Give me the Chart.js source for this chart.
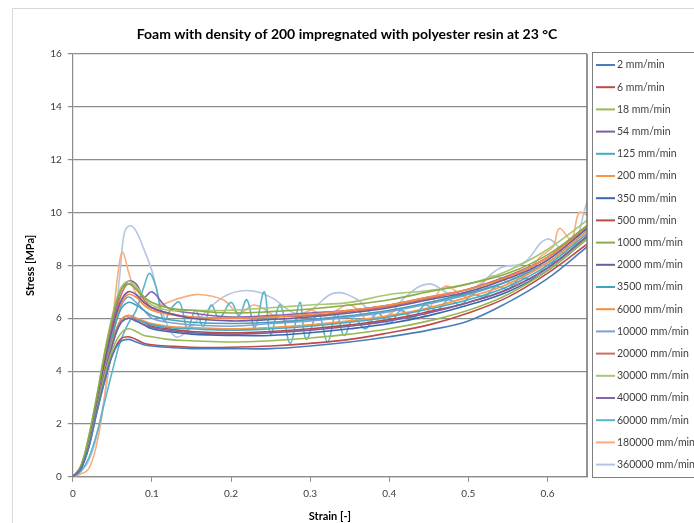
<!DOCTYPE html>
<html lang="en">
<head>
  <meta charset="UTF-8">
  <title>Foam with density of 200 impregnated with polyester resin at 23 °C</title>
  <script src="https://cdn.jsdelivr.net/npm/chart.js"></script>
  <style>
    html, body { margin: 0; padding: 0; background: #fff; }
    #wrap { width: 694px; height: 523px; position: relative; }
  </style>
</head>
<body>
  <div id="wrap"><canvas id="foamChart"></canvas></div>
  <script>
    const chartTitle = 'Foam with density of 200 impregnated with polyester resin at 23 °C';

    // legend labels (test speeds)
    const rates = ['2 mm/min', '6 mm/min', '18 mm/min', '54 mm/min', '125 mm/min', '200 mm/min',
      '350 mm/min', '500 mm/min', '1000 mm/min', '2000 mm/min', '3500 mm/min', '6000 mm/min',
      '10000 mm/min', '20000 mm/min', '30000 mm/min', '40000 mm/min', '60000 mm/min',
      '180000 mm/min', '360000 mm/min'];

    const colors = ['#4a7ebb', '#be4b48', '#98b954', '#7d60a0', '#46aac5', '#f79646',
      '#3a67aa', '#b64a47', '#8bac4a', '#7359a0', '#3fa5bd', '#f58d42',
      '#7ea0d6', '#cf6a66', '#a8c673', '#8466ad', '#5ab4cc',
      '#f9ad7f', '#b3c5e3'];

    // common strain grid for the smoother curves
    const strain = [0, 0.01, 0.02, 0.03, 0.04, 0.05, 0.06, 0.07, 0.08, 0.09, 0.1, 0.12, 0.15,
      0.2, 0.25, 0.3, 0.35, 0.4, 0.45, 0.5, 0.55, 0.6, 0.65];

    const s2 = [0, 0.3, 1.1, 2.4, 3.6, 4.6, 5.1, 5.2, 5.1, 5.0, 4.95, 4.9, 4.85, 4.85, 4.85, 4.95, 5.1, 5.3, 5.55, 5.9, 6.6, 7.5, 8.7];
    const s6 = [0, 0.3, 1.1, 2.4, 3.6, 4.6, 5.2, 5.3, 5.2, 5.05, 5.0, 4.95, 4.9, 4.9, 4.95, 5.05, 5.2, 5.45, 5.75, 6.2, 6.8, 7.7, 8.8];
    const s18 = [0, 0.3, 1.2, 2.5, 3.8, 4.8, 5.4, 5.6, 5.5, 5.35, 5.3, 5.2, 5.15, 5.1, 5.15, 5.25, 5.4, 5.6, 5.9, 6.3, 6.9, 7.8, 9.0];
    const s54 = [0, 0.3, 1.2, 2.6, 3.9, 5.0, 5.8, 6.0, 5.9, 5.75, 5.65, 5.55, 5.45, 5.4, 5.45, 5.55, 5.7, 5.9, 6.2, 6.6, 7.1, 7.9, 9.1];
    const s125 = [0, 0.3, 1.2, 2.6, 3.9, 5.0, 5.8, 6.0, 5.95, 5.85, 5.75, 5.65, 5.6, 5.55, 5.6, 5.7, 5.85, 6.05, 6.35, 6.7, 7.2, 8.0, 9.2];
    const s200 = [0, 0.3, 1.2, 2.6, 4.0, 5.1, 5.9, 6.1, 6.0, 5.9, 5.8, 5.7, 5.65, 5.6, 5.65, 5.75, 5.9, 6.1, 6.4, 6.8, 7.3, 8.1, 9.3];
    const s350 = [0, 0.3, 1.2, 2.6, 3.9, 5.0, 5.8, 6.0, 5.9, 5.75, 5.6, 5.5, 5.4, 5.35, 5.35, 5.45, 5.6, 5.8, 6.1, 6.5, 7.0, 7.8, 9.0];
    const s500 = [0, 0.3, 1.2, 2.6, 4.0, 5.1, 5.9, 6.1, 6.0, 5.85, 5.7, 5.6, 5.5, 5.45, 5.5, 5.6, 5.75, 5.95, 6.25, 6.6, 7.1, 7.9, 9.1];
    const s1000 = [0, 0.4, 1.5, 3.0, 4.6, 6.0, 7.0, 7.3, 7.1, 6.8, 6.6, 6.4, 6.3, 6.2, 6.25, 6.35, 6.5, 6.7, 7.0, 7.3, 7.7, 8.4, 9.5];
    const s2000 = [0, 0.3, 1.3, 2.8, 4.3, 5.6, 6.6, 7.0, 6.9, 6.6, 6.4, 6.2, 6.0, 5.9, 5.95, 6.05, 6.2, 6.4, 6.7, 7.0, 7.5, 8.2, 9.4];
    const s3500 = [0, 0.3, 1.3, 2.7, 4.1, 5.3, 6.3, 6.6, 6.5, 6.3, 6.1, 5.95, 5.85, 5.8, 5.85, 5.95, 6.1, 6.3, 6.6, 6.95, 7.4, 8.1, 9.3];
    const s6000 = [0, 0.3, 1.3, 2.8, 4.2, 5.5, 6.5, 6.9, 6.8, 6.5, 6.3, 6.15, 6.05, 6.0, 6.05, 6.15, 6.3, 6.5, 6.8, 7.1, 7.55, 8.3, 9.4];
    const s10000 = [0, 0.3, 1.3, 2.7, 4.1, 5.4, 6.4, 6.8, 6.6, 6.3, 6.0, 5.85, 5.75, 5.7, 5.8, 5.9, 6.05, 6.25, 6.55, 6.9, 7.4, 8.2, 9.4];
    const s20000 = [0, 0.3, 1.3, 2.8, 4.3, 5.7, 6.8, 7.3, 7.1, 6.7, 6.4, 6.2, 6.05, 6.0, 6.05, 6.1, 6.25, 6.45, 6.75, 7.1, 7.6, 8.3, 9.5];
    const s30000 = [0, 0.4, 1.5, 3.0, 4.7, 6.1, 7.1, 7.4, 7.2, 6.8, 6.5, 6.3, 6.3, 6.3, 6.4, 6.5, 6.6, 6.9, 7.05, 7.3, 7.8, 8.6, 9.7];
    const s40000 = [0, 0.3, 1.3, 2.8, 4.4, 5.8, 7.0, 7.4, 7.3, 6.8, 7.0, 6.4, 6.2, 6.05, 6.1, 6.2, 6.3, 6.5, 6.8, 7.1, 7.6, 8.3, 9.5];

    // the fastest three oscillate, so they have their own strain points
    const strain60k = [0, 0.01, 0.02, 0.03, 0.04, 0.05, 0.06, 0.07, 0.08, 0.09, 0.097, 0.105, 0.115, 0.125,
      0.135, 0.145, 0.155, 0.165, 0.175, 0.185, 0.2, 0.21, 0.22, 0.23, 0.242, 0.25, 0.262, 0.275,
      0.287, 0.295, 0.31, 0.322, 0.333, 0.343, 0.355, 0.37, 0.385, 0.4, 0.415, 0.43, 0.445, 0.46,
      0.475, 0.49, 0.505, 0.52, 0.535, 0.55, 0.565, 0.58, 0.6, 0.62, 0.65];
    const s60000 = [0, 0.2, 0.7, 1.6, 2.8, 4.0, 5.1, 5.8, 6.3, 7.2, 7.7, 7.2, 5.9, 6.4,
      6.6, 5.6, 6.3, 5.7, 6.5, 6.0, 6.6, 6.1, 6.7, 5.65, 7.0, 5.4, 6.5, 5.05,
      6.6, 5.2, 6.2, 5.1, 6.2, 5.35, 6.0, 5.6, 6.2, 5.8, 6.3, 6.0, 6.5, 6.3,
      6.7, 6.5, 6.9, 6.8, 7.2, 7.1, 7.5, 7.5, 8.0, 8.3, 9.1];

    const strain180k = [0, 0.01, 0.02, 0.03, 0.04, 0.05, 0.058, 0.063, 0.07, 0.08, 0.09, 0.1, 0.12, 0.14,
      0.16, 0.19, 0.21, 0.23, 0.26, 0.28, 0.3, 0.32, 0.35, 0.38, 0.41, 0.44, 0.47, 0.5, 0.53,
      0.56, 0.59, 0.607, 0.615, 0.63, 0.64, 0.65];
    const s180000 = [0, 0.1, 0.3, 1.2, 3.0, 5.8, 7.9, 8.5, 7.8, 6.9, 6.5, 6.4, 6.6, 6.8,
      6.9, 6.7, 6.2, 6.5, 6.0, 5.9, 6.3, 6.1, 6.5, 5.8, 6.3, 6.0, 7.2, 6.8, 7.6,
      7.3, 8.3, 8.7, 9.4, 9.0, 10.0, 9.9];

    const strain360k = [0, 0.01, 0.02, 0.03, 0.04, 0.05, 0.06, 0.065, 0.072, 0.08, 0.09, 0.1, 0.11,
      0.12, 0.13, 0.14, 0.16, 0.19, 0.22, 0.25, 0.28, 0.3, 0.33, 0.36, 0.39, 0.42, 0.45, 0.48,
      0.51, 0.54, 0.57, 0.6, 0.627, 0.65];
    const s360000 = [0, 0.2, 0.6, 1.5, 3.0, 5.0, 7.8, 9.2, 9.5, 9.3, 8.6, 7.8, 6.6,
      5.7, 5.3, 5.4, 6.0, 6.8, 7.05, 6.8, 6.2, 6.3, 6.95, 6.7, 5.9, 6.8, 7.3, 6.9,
      7.2, 7.9, 8.1, 9.0, 8.4, 10.4];

    const seriesY = [s2, s6, s18, s54, s125, s200, s350, s500, s1000, s2000, s3500, s6000,
      s10000, s20000, s30000, s40000, s60000, s180000, s360000];
    const seriesX = seriesY.map((ys, i) => i === 16 ? strain60k : i === 17 ? strain180k : i === 18 ? strain360k : strain);

    const datasets = rates.map((label, i) => ({
      label: label,
      data: seriesY[i].map((y, k) => ({ x: seriesX[i][k], y: y })),
      borderColor: colors[i],
      backgroundColor: colors[i],
      borderWidth: 1.6,
      pointRadius: 0,
      tension: 0.4,
      fill: false
    }));

    const fontFamily = 'Lato, "Open Sans", sans-serif';

    // page background, outer frame, title, plot border and the boxed legend
    const framePlugin = {
      id: 'frame',
      beforeDraw(chart) {
        const ctx = chart.ctx;
        ctx.save();
        ctx.fillStyle = '#fff';
        ctx.fillRect(0, 0, chart.width, chart.height);
        ctx.strokeStyle = '#d9d9d9';
        ctx.lineWidth = 1;
        ctx.strokeRect(12.5, 8.5, chart.width, chart.height);
        ctx.restore();
      },
      afterDraw(chart) {
        const ctx = chart.ctx;
        const a = chart.chartArea;
        ctx.save();
        // title, centred on the whole chart like the original
        ctx.font = 'bold 14px ' + fontFamily;
        ctx.fillStyle = '#000';
        ctx.textAlign = 'center';
        ctx.textBaseline = 'middle';
        ctx.fillText(chartTitle, 347, 34);

        ctx.strokeStyle = '#6f6f6f';
        ctx.lineWidth = 1.5;
        ctx.beginPath();
        ctx.moveTo(a.right, a.top);
        ctx.lineTo(a.right, a.bottom);
        ctx.stroke();

        // legend box
        ctx.strokeStyle = '#7f7f7f';
        ctx.lineWidth = 1;
        ctx.strokeRect(592.5, 52.5, 120, 425);
        ctx.font = '10.5px ' + fontFamily;
        ctx.textAlign = 'left';
        ctx.fillStyle = '#404040';
        rates.forEach((label, i) => {
          const y = 65 + i * 22.2;
          ctx.strokeStyle = colors[i];
          ctx.lineWidth = 2;
          ctx.beginPath();
          ctx.moveTo(596, y);
          ctx.lineTo(615, y);
          ctx.stroke();
          ctx.fillText(label, 617, y);
        });
        ctx.restore();
      }
    };

    const ctx = document.getElementById('foamChart').getContext('2d');
    new Chart(ctx, {
      type: 'line',
      data: { datasets: datasets },
      plugins: [framePlugin],
      options: {
        responsive: true,
        maintainAspectRatio: false,
        animation: false,
        layout: { padding: { left: 24, right: 107, top: 54, bottom: 0 } },
        plugins: {
          legend: { display: false },
          tooltip: { enabled: false },
          title: { display: false }
        },
        scales: {
          x: {
            type: 'linear',
            min: 0,
            max: 0.65,
            title: {
              display: true,
              text: 'Strain [-]',
              color: '#000',
              font: { family: fontFamily, size: 11, weight: 'bold' },
              padding: { top: 4, bottom: 0 }
            },
            ticks: {
              stepSize: 0.1,
              includeBounds: false,
              color: '#404040',
              font: { family: fontFamily, size: 10 },
              padding: 6,
              maxRotation: 0,
              callback: v => Math.round(v * 10) / 10
            },
            grid: { drawOnChartArea: false, drawTicks: true, tickLength: 5, color: '#8c8c8c' },
            border: { color: '#8c8c8c', width: 1.2 }
          },
          y: {
            min: 0,
            max: 16,
            title: {
              display: true,
              text: 'Stress [MPa]',
              color: '#000',
              font: { family: fontFamily, size: 11, weight: 'bold' },
              padding: { top: 0, bottom: 7 }
            },
            ticks: {
              stepSize: 2,
              color: '#404040',
              font: { family: fontFamily, size: 10 },
              padding: 6
            },
            grid: { color: '#8c8c8c', lineWidth: 1.2, tickLength: 5 },
            border: { color: '#8c8c8c', width: 1.2 }
          }
        }
      }
    });
  </script>
</body>
</html>
